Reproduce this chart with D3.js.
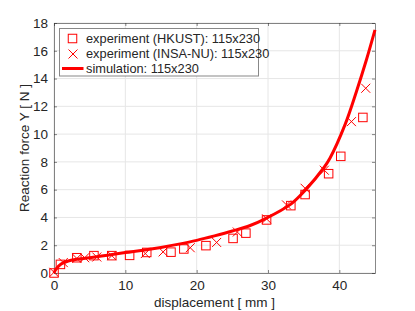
<!DOCTYPE html>
<html>
<head>
<meta charset="utf-8">
<script src="https://cdn.jsdelivr.net/npm/d3@7"></script>
<style>
  body { margin: 0; background: #fff; }
  svg { font-family: "Liberation Sans", Arial, sans-serif; }
</style>
</head>
<body>
<div id="chart"></div>
<script>
const w = 415;
const h = 311;
const margin = {top: 23, right: 40, bottom: 38, left: 54};

// experiment (HKUST): squares
const hkustX = [0, 0.9, 3.2, 5.6, 8.1, 10.6, 13, 16.4, 18.2, 21.3, 25.1, 26.9, 29.8, 33.2, 35.2, 38.5, 40.2, 43.3];
const hkustY = [0, 0.62, 1.1, 1.25, 1.25, 1.27, 1.48, 1.5, 1.73, 1.97, 2.49, 2.87, 3.82, 4.85, 5.65, 7.15, 8.4, 11.2];

// experiment (INSA-NU): crosses
const insaX = [0, 1.3, 3.2, 4.3, 6.0, 8.1, 12.8, 15.3, 19.1, 22.8, 25.7, 29.8, 32.6, 35.2, 37.9, 41.7, 43.7];
const insaY = [0.05, 0.75, 1.05, 1.1, 1.15, 1.25, 1.4, 1.52, 1.82, 2.2, 2.95, 3.9, 4.9, 6.1, 7.4, 10.9, 13.3];

// simulation curve
const simX = [0, 0.3, 1, 2, 3, 5, 7.5, 10, 12.5, 15, 17.5, 20, 22.5, 25, 27.5, 29.6, 33.1, 35.2, 37.8, 38.7, 40.8, 42.4, 43.8, 45];
const simY = [0, 0.3, 0.65, 0.86, 0.97, 1.1, 1.28, 1.47, 1.64, 1.84, 2.08, 2.35, 2.67, 3.02, 3.42, 3.9, 4.92, 5.95, 7.56, 8.28, 10.68, 13.07, 15.35, 17.5];

const xTicks = [0, 10, 20, 30, 40];
const yTicks = [0, 2, 4, 6, 8, 10, 12, 14, 16, 18];

const legendLabels = ['experiment (HKUST): 115x230', 'experiment (INSA-NU): 115x230', 'simulation: 115x230'];

const red = '#ff0000';
const axisColor = '#262626';

const svg = d3.select('#chart')
    .append('svg')
    .attr('width', w)
    .attr('height', h);

const x = d3.scaleLinear().domain([0, 45]).range([margin.left, w - margin.right]);
const y = d3.scaleLinear().domain([0, 18]).range([h - margin.bottom, margin.top]);

// grid
svg.append('g').selectAll('line')
    .data(xTicks)
    .enter()
    .append('line')
    .attr('x1', d => x(d)).attr('x2', d => x(d))
    .attr('y1', y(0)).attr('y2', y(18))
    .attr('stroke', '#e6e6e6');

svg.append('g').selectAll('line')
    .data(yTicks)
    .enter()
    .append('line')
    .attr('x1', x(0)).attr('x2', x(45))
    .attr('y1', d => y(d)).attr('y2', d => y(d))
    .attr('stroke', '#e6e6e6');

// axes, ticks pointing inward like matlab
const styleAxis = g => {
    g.select('.domain').attr('stroke', axisColor).attr('stroke-opacity', 0.55);
    g.selectAll('.tick line').attr('stroke', axisColor).attr('stroke-opacity', 0.55);
    g.selectAll('.tick text').attr('fill', axisColor).style('font-size', '13.5px');
};

svg.append('g')
    .attr('transform', 'translate(0,' + y(0) + ')')
    .call(d3.axisBottom(x).tickValues(xTicks).tickSize(-3).tickSizeOuter(0).tickPadding(7))
    .call(styleAxis);

svg.append('g')
    .attr('transform', 'translate(0,' + y(18) + ')')
    .call(d3.axisTop(x).tickValues(xTicks).tickSize(-3).tickSizeOuter(0).tickFormat(''))
    .call(styleAxis);

svg.append('g')
    .attr('transform', 'translate(' + x(0) + ',0)')
    .call(d3.axisLeft(y).tickValues(yTicks).tickSize(-3).tickSizeOuter(0).tickPadding(6))
    .call(styleAxis);

svg.append('g')
    .attr('transform', 'translate(' + x(45) + ',0)')
    .call(d3.axisRight(y).tickValues(yTicks).tickSize(-3).tickSizeOuter(0).tickFormat(''))
    .call(styleAxis);

// simulation line
const line = d3.line()
    .x(d => x(d[0]))
    .y(d => y(d[1]))
    .curve(d3.curveCatmullRom.alpha(0.5));

svg.append('path')
    .datum(d3.zip(simX, simY))
    .attr('d', line)
    .attr('fill', 'none')
    .attr('stroke', red)
    .attr('stroke-width', 3);

// squares
const sq = 8.5;
svg.append('g').selectAll('rect')
    .data(d3.zip(hkustX, hkustY))
    .enter()
    .append('rect')
    .attr('x', d => x(d[0]) - sq / 2)
    .attr('y', d => y(d[1]) - sq / 2)
    .attr('width', sq)
    .attr('height', sq)
    .attr('fill', 'none')
    .attr('stroke', red)
    .attr('stroke-width', 1);

// crosses
const cr = 4.5;
const cross = (px, py) => 'M' + (px - cr) + ',' + (py - cr) + 'L' + (px + cr) + ',' + (py + cr) +
    'M' + (px - cr) + ',' + (py + cr) + 'L' + (px + cr) + ',' + (py - cr);

svg.append('g').selectAll('path')
    .data(d3.zip(insaX, insaY))
    .enter()
    .append('path')
    .attr('d', d => cross(x(d[0]), y(d[1])))
    .attr('fill', 'none')
    .attr('stroke', red)
    .attr('stroke-width', 1);

// axis labels
svg.append('text')
    .attr('x', (x(0) + x(45)) / 2)
    .attr('y', 307)
    .attr('text-anchor', 'middle')
    .attr('fill', axisColor)
    .style('font-size', '13.5px')
    .text('displacement [ mm ]');

svg.append('text')
    .attr('transform', 'rotate(-90)')
    .attr('x', -(y(0) + y(18)) / 2)
    .attr('y', 29)
    .attr('text-anchor', 'middle')
    .attr('fill', axisColor)
    .style('font-size', '13.5px')
    .text('Reaction force Y [ N ]');

// legend
const lg = svg.append('g');
lg.append('rect')
    .attr('x', 59.5).attr('y', 28.5)
    .attr('width', 199).attr('height', 47.5)
    .attr('fill', '#fff')
    .attr('stroke', axisColor)
    .attr('stroke-opacity', 0.55);

const rowY = [38.5, 53.5, 68.5];
lg.append('rect')
    .attr('x', 72.5 - sq / 2).attr('y', rowY[0] - sq / 2)
    .attr('width', sq).attr('height', sq)
    .attr('fill', 'none').attr('stroke', red);
lg.append('path')
    .attr('d', cross(73, rowY[1] + 0.5))
    .style('fill', 'none')
    .style('stroke', red)
    .style('stroke-width', 1);
lg.append('line')
    .attr('x1', 62).attr('x2', 83.5)
    .attr('y1', rowY[2]).attr('y2', rowY[2])
    .attr('stroke', red).attr('stroke-width', 3);

lg.selectAll('text')
    .data(legendLabels)
    .enter()
    .append('text')
    .attr('x', 86)
    .attr('y', (d, i) => rowY[i])
    .attr('dy', '0.35em')
    .attr('fill', axisColor)
    .style('font-size', '12.8px')
    .text(d => d);
</script>
</body>
</html>
